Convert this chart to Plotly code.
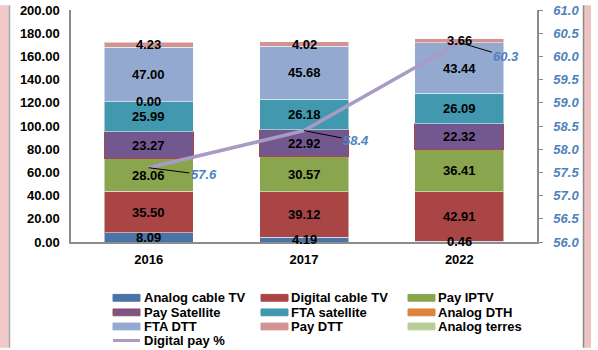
import plotly.graph_objects as go

# ---------------- data ----------------
years = ["2016", "2017", "2022"]
analog_cable_tv = [8.09, 4.19, 0.46]
digital_cable_tv = [35.50, 39.12, 42.91]
pay_iptv = [28.06, 30.57, 36.41]
pay_satellite = [23.27, 22.92, 22.32]
fta_satellite = [25.99, 26.18, 26.09]
analog_dth = [0.00, None, None]
fta_dtt = [47.00, 45.68, 43.44]
pay_dtt = [4.23, 4.02, 3.66]
analog_terres = [None, None, None]
digital_pay_pct = [57.6, 58.4, 60.3]

series = [
    ("Analog cable TV", analog_cable_tv, "#4A74A9", "rgba(255,255,255,0.5)"),
    ("Digital cable TV", digital_cable_tv, "#A94645", "rgba(255,255,255,0.5)"),
    ("Pay IPTV", pay_iptv, "#89A54E", "rgba(255,255,255,0.5)"),
    ("Pay Satellite", pay_satellite, "#73588F", "#B0434B"),
    ("FTA satellite", fta_satellite, "#4198AF", "rgba(255,255,255,0.5)"),
    ("Analog DTH", analog_dth, "#DB843D", "rgba(255,255,255,0.5)"),
    ("FTA DTT", fta_dtt, "#93A9CF", "rgba(255,255,255,0.5)"),
    ("Pay DTT", pay_dtt, "#D39392", "rgba(255,255,255,0.5)"),
    ("Analog terres", analog_terres, "#B9CD96", "rgba(255,255,255,0.5)"),
]
line_name = "Digital pay %"
line_color = "#A99BC3"
blue_txt = "#4F81BD"
FONT = "Liberation Sans, Arial, sans-serif"

fig = go.Figure()
for name, vals, col, lcol in series:
    fig.add_trace(go.Bar(
        x=years, y=vals, name=name, marker=dict(color=col, line=dict(color=lcol, width=1)),
        showlegend=False, hoverinfo="skip"))

fig.add_trace(go.Scatter(
    x=years, y=digital_pay_pct, name=line_name, mode="lines", yaxis="y2",
    line=dict(color=line_color, width=3.5), showlegend=False, hoverinfo="skip"))

annotations = []
# stacked data labels (x given as category index)
for i, yr in enumerate(years):
    base = 0.0
    for name, vals, col, lcol in series:
        v = vals[i]
        if v is None:
            continue
        annotations.append(dict(
            x=i, y=base + v / 2, xref="x", yref="y", text=f"{v:.2f}", showarrow=False,
            font=dict(family=FONT, size=13, color="black", weight="bold")))
        base += v

# line labels with leader lines
offs = [(55, 7), (52, 10), (47, 14)]
for i, yr in enumerate(years):
    annotations.append(dict(
        x=i, y=digital_pay_pct[i], xref="x", yref="y2", text=f"{digital_pay_pct[i]:.1f}",
        showarrow=True, arrowhead=0, arrowwidth=1, arrowcolor="black",
        ax=offs[i][0], ay=offs[i][1], standoff=0,
        font=dict(family=FONT, size=13, color=blue_txt, weight="bold", style="italic")))

# ---------------- manual legend ----------------
PX0, PW, PYB, PH = 71, 466, 242, 239


def X(px):
    return (px - PX0) / PW


def Y(py):
    return (PYB - py) / PH


shapes = []
col_sym = [113, 261, 408]
col_txt = [142, 289, 436]
row_y = [299.5, 314.5, 329, 343.5]
for k, (name, vals, col, lcol) in enumerate(series):
    r, c = divmod(k, 3)
    yc = row_y[r]
    border = lcol if name == "Pay Satellite" else col
    shapes.append(dict(type="rect", xref="paper", yref="paper",
                       x0=X(col_sym[c]), x1=X(col_sym[c] + 27), y0=Y(yc - 3.5), y1=Y(yc + 3.5),
                       fillcolor=col, line=dict(color=border, width=1)))
    annotations.append(dict(x=X(col_txt[c]), y=Y(yc), xref="paper", yref="paper", text=name,
                            showarrow=False, xanchor="left", yanchor="middle",
                            font=dict(family=FONT, size=13, color="black", weight="bold")))
shapes.append(dict(type="line", xref="paper", yref="paper", x0=X(113), x1=X(140),
                   y0=Y(row_y[3]), y1=Y(row_y[3]), line=dict(color=line_color, width=3)))
annotations.append(dict(x=X(col_txt[0]), y=Y(row_y[3]), xref="paper", yref="paper", text=line_name,
                        showarrow=False, xanchor="left", yanchor="middle",
                        font=dict(family=FONT, size=13, color="black", weight="bold")))

# page side borders
shapes += [
    dict(type="rect", xref="paper", yref="paper", x0=X(0), x1=X(9), y0=Y(351), y1=Y(-2),
         fillcolor="#F1C9C9", line=dict(width=0), layer="below"),
    dict(type="line", xref="paper", yref="paper", x0=X(9.5), x1=X(9.5), y0=Y(351), y1=Y(-2),
         line=dict(color="#A8A8A8", width=1.5)),
    dict(type="rect", xref="paper", yref="paper", x0=X(584), x1=X(591), y0=Y(351), y1=Y(-2),
         fillcolor="#EDC3C3", line=dict(width=0), layer="below"),
    dict(type="line", xref="paper", yref="paper", x0=X(583.5), x1=X(583.5), y0=Y(351), y1=Y(-2),
         line=dict(color="#8C8C8C", width=1.5)),
]

fig.update_layout(
    width=598, height=350,
    margin=dict(l=71, r=61, t=3, b=108),
    paper_bgcolor="white", plot_bgcolor="white",
    barmode="stack", bargap=0.427,
    showlegend=False,
    font=dict(family=FONT, size=13, color="black"),
    xaxis=dict(type="category", range=[-0.5, 2.5], showline=True, linecolor="#8C8C8C",
               linewidth=1.5, showgrid=False, ticks="",
               tickfont=dict(family=FONT, size=13, color="black", weight="bold"),
               ticklabelstandoff=5),
    yaxis=dict(range=[0, 200], dtick=20, tickformat=".2f", showline=True, linecolor="#8C8C8C",
               linewidth=1.5, showgrid=False, zeroline=False, ticks="",
               tickfont=dict(family=FONT, size=13, color="black", weight="bold"),
               ticklabelstandoff=7, ticklabeloverflow="allow"),
    yaxis2=dict(range=[56, 61], dtick=0.5, tickformat=".1f", overlaying="y", side="right",
                showline=True, linecolor="#8C8C8C", linewidth=1.5, showgrid=False, zeroline=False,
                ticks="outside", ticklen=4, tickcolor="#8C8C8C",
                tickfont=dict(family=FONT, size=13, color=blue_txt, weight="bold", style="italic"),
                ticklabelstandoff=8, ticklabeloverflow="allow"),
    annotations=annotations,
    shapes=shapes,
)

fig.write_html("out.html")
